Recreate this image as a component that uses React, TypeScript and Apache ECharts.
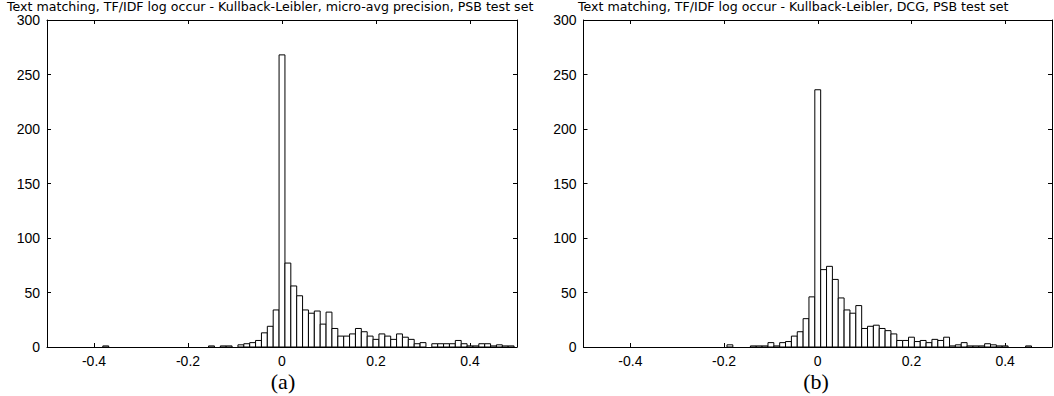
import React, { useEffect, useRef } from "react";
import * as echarts from "echarts";

const binWidth = 0.0125;
const xTicks = [-0.4, -0.2, 0, 0.2, 0.4];
const titleA = "Text matching, TF/IDF log occur - Kullback-Leibler, micro-avg precision, PSB test set";
const titleB = "Text matching, TF/IDF log occur - Kullback-Leibler, DCG, PSB test set";
const captionA = "(a)";
const captionB = "(b)";

const centersA = [
  -0.375, -0.15, -0.125, -0.1125, -0.0875, -0.075, -0.0625, -0.05, -0.0375, -0.025, -0.0125,
  0, 0.0125, 0.025, 0.0375, 0.05, 0.0625, 0.075, 0.0875, 0.1, 0.1125, 0.125, 0.1375, 0.15,
  0.1625, 0.175, 0.1875, 0.2, 0.2125, 0.225, 0.2375, 0.25, 0.2625, 0.275, 0.2875, 0.3,
  0.325, 0.3375, 0.35, 0.3625, 0.375, 0.3875, 0.4, 0.4125, 0.425, 0.4375, 0.45, 0.4625, 0.475, 0.4875,
];
const countsA = [
  1, 1, 1, 1, 2, 3, 4, 6, 13, 19, 34,
  268, 77, 56, 47, 34, 31, 33, 21, 32, 17, 10, 10, 12,
  17, 14, 10, 7, 12, 10, 7, 12, 9, 7, 3, 4,
  3, 3, 3, 3, 6, 3, 1, 1, 3, 3, 1, 2, 1, 1,
];

const centersB = [
  -0.1875, -0.1375, -0.125, -0.1125, -0.1, -0.0875, -0.075, -0.0625, -0.05, -0.0375, -0.025, -0.0125,
  0, 0.0125, 0.025, 0.0375, 0.05, 0.0625, 0.075, 0.0875, 0.1, 0.1125, 0.125, 0.1375, 0.15,
  0.1625, 0.175, 0.1875, 0.2, 0.2125, 0.225, 0.2375, 0.25, 0.2625, 0.275, 0.2875, 0.3,
  0.3125, 0.325, 0.3375, 0.35, 0.3625, 0.375, 0.3875, 0.4, 0.45,
];
const countsB = [
  2, 1, 1, 1, 4, 1, 4, 5, 10, 14, 26, 46,
  236, 71, 74, 62, 45, 34, 31, 38, 17, 19, 20, 17, 15,
  12, 6, 6, 9, 5, 6, 4, 7, 6, 9, 1, 2,
  4, 1, 1, 1, 3, 2, 1, 1, 1,
];

const FONT = "'Liberation Sans', Arial, Helvetica, sans-serif";
const TITLE_FONT = "'DejaVu Sans', 'Liberation Sans', sans-serif";
const SERIF = "'Liberation Serif', 'Times New Roman', serif";

function xAxisDef(grid: number, showLabels: boolean, position: string) {
  return {
    gridIndex: grid,
    type: "value",
    min: -0.5,
    max: 0.5,
    position,
    axisLine: { show: true, onZero: false, lineStyle: { color: "#000", width: 1 } },
    axisTick: { show: true, inside: true, length: 4, customValues: xTicks, lineStyle: { color: "#000" } },
    axisLabel: {
      show: showLabels,
      customValues: xTicks,
      fontSize: 14,
      lineHeight: 14,
      fontFamily: FONT,
      color: "#000",
      margin: 7,
      formatter: (v: number) => String(Math.round(v * 10) / 10),
    },
    splitLine: { show: false },
  };
}

function yAxisDef(grid: number, showLabels: boolean, position: string) {
  return {
    gridIndex: grid,
    type: "value",
    min: 0,
    max: 300,
    interval: 50,
    position,
    axisLine: { show: true, onZero: false, lineStyle: { color: "#000", width: 1 } },
    axisTick: { show: true, inside: true, length: 4, lineStyle: { color: "#000" } },
    axisLabel: { show: showLabels, fontSize: 14, lineHeight: 12, fontFamily: FONT, color: "#000", margin: 7 },
    splitLine: { show: false },
  };
}

function histSeries(centers: number[], counts: number[], idx: number) {
  return {
    type: "custom",
    xAxisIndex: idx * 2,
    yAxisIndex: idx * 2,
    clip: true,
    data: centers.map((c, i) => [c, counts[i]]),
    encode: { x: 0, y: 1 },
    renderItem: (_p: any, api: any) => {
      const c = api.value(0);
      const n = api.value(1);
      const p0 = api.coord([c - binWidth / 2, n]);
      const p1 = api.coord([c + binWidth / 2, 0]);
      return {
        type: "rect",
        shape: { x: p0[0], y: p0[1], width: p1[0] - p0[0], height: p1[1] - p0[1] },
        style: { fill: "#fff", stroke: "#000", lineWidth: 1 },
      };
    },
  };
}

export default function App() {
  const ref = useRef<HTMLDivElement>(null);
  useEffect(() => {
    document.body.style.margin = "0";
    const chart = echarts.init(ref.current!, null, { renderer: "svg" });
    chart.setOption({
      animation: false,
      backgroundColor: "#fff",
      grid: [
        { left: 47, top: 20, width: 470, height: 327 },
        { left: 583.5, top: 20, width: 468.5, height: 327 },
      ],
      xAxis: [
        xAxisDef(0, true, "bottom"),
        xAxisDef(0, false, "top"),
        xAxisDef(1, true, "bottom"),
        xAxisDef(1, false, "top"),
      ],
      yAxis: [
        yAxisDef(0, true, "left"),
        yAxisDef(0, false, "right"),
        yAxisDef(1, true, "left"),
        yAxisDef(1, false, "right"),
      ],
      graphic: [
        { type: "text", left: 7, top: 0, style: { text: titleA, font: `12.6px ${TITLE_FONT}`, lineHeight: 12, fill: "#000" } },
        { type: "text", left: 578, top: 0, style: { text: titleB, font: `12.6px ${TITLE_FONT}`, lineHeight: 12, fill: "#000" } },
        { type: "text", x: 283, y: 381, style: { text: captionA, font: `22px ${SERIF}`, fill: "#000", align: "center", verticalAlign: "middle" } },
        { type: "text", x: 816, y: 381, style: { text: captionB, font: `22px ${SERIF}`, fill: "#000", align: "center", verticalAlign: "middle" } },
      ],
      series: [histSeries(centersA, countsA, 0), histSeries(centersB, countsB, 1)],
    });
    return () => chart.dispose();
  }, []);
  return <div ref={ref} style={{ width: 1054, height: 396 }} />;
}
